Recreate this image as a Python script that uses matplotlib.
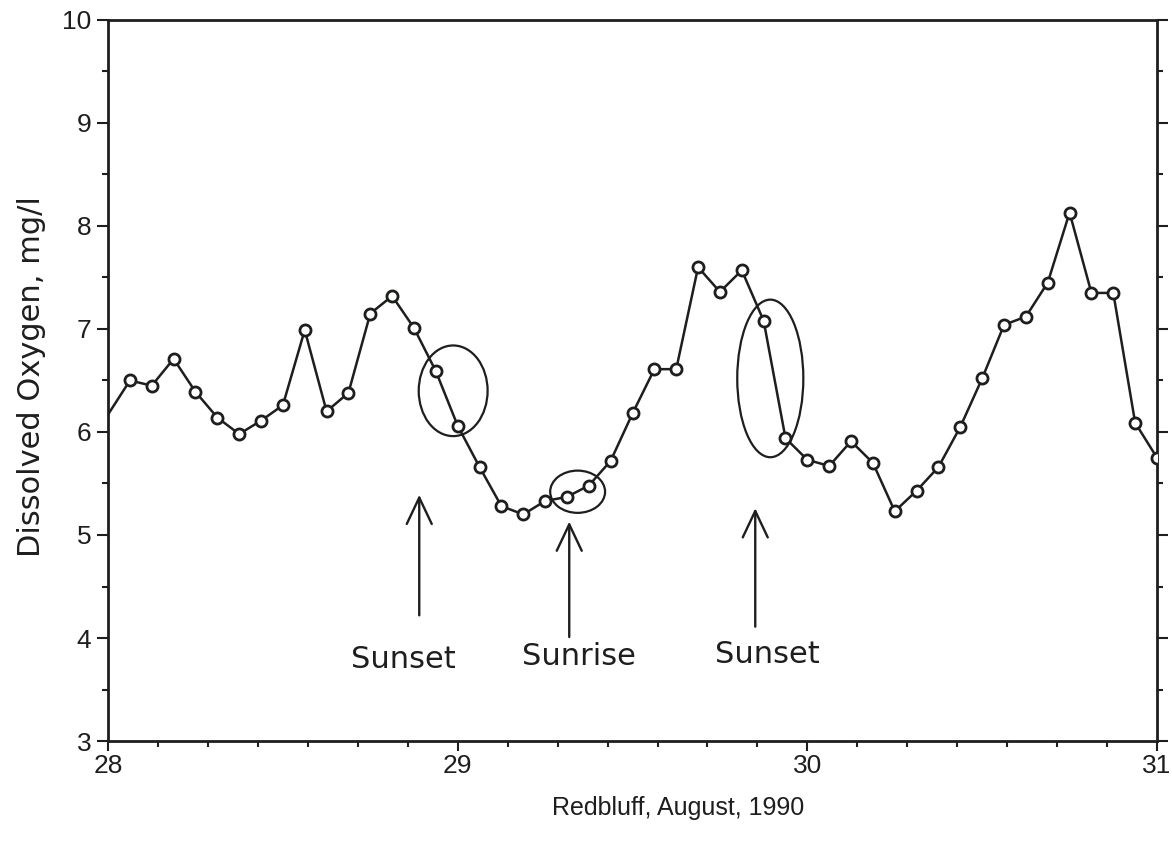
import matplotlib.pyplot as plt
from matplotlib.patches import Ellipse
from matplotlib.ticker import MultipleLocator

# Readings every 1.5 hours starting at midnight, Aug 28
hours = [0, 1.5, 3, 4.5, 6, 7.5, 9, 10.5, 12, 13.5, 15, 16.5,
         18, 19.5, 21, 22.5, 24, 25.5, 27, 28.5, 30, 31.5, 33, 34.5,
         36, 37.5, 39, 40.5, 42, 43.5, 45, 46.5, 48, 49.5, 51, 52.5,
         54, 55.5, 57, 58.5, 60, 61.5, 63, 64.5, 66, 67.5, 69, 70.5, 72]
oxygen = [6.17, 6.50, 6.45, 6.71, 6.39, 6.14, 5.98, 6.11, 6.26, 6.99, 6.20, 6.38,
          7.15, 7.32, 7.01, 6.59, 6.06, 5.66, 5.28, 5.20, 5.33, 5.37, 5.48, 5.72,
          6.18, 6.61, 6.61, 7.60, 7.36, 7.57, 7.08, 5.94, 5.73, 5.67, 5.91, 5.70,
          5.23, 5.43, 5.66, 6.05, 6.52, 7.04, 7.12, 7.45, 8.13, 7.35, 7.35, 6.09, 5.75]
start_day = 28

x_ticks = [28, 29, 30, 31]
y_ticks = [3, 4, 5, 6, 7, 8, 9, 10]

notes = ['Sunset', 'Sunrise', 'Sunset']

days = [start_day + h / 24 for h in hours]
ink = '#1c1f1c'

plt.rcParams['font.family'] = ['Liberation Sans', 'DejaVu Sans']

fig = plt.figure(figsize=(11.72, 8.46), dpi=100)
ax = fig.add_axes([0.0922, 0.1241, 0.8950, 0.8523])

ax.plot(days, oxygen, color=ink, lw=1.8, zorder=3)
ax.plot(days[1:], oxygen[1:], 'o', ms=8, mfc='white', mec=ink,
        mew=2.0, zorder=4)

ax.set_xlim(28, 31)
ax.set_ylim(3, 10)
ax.set_xticks(x_ticks)
ax.set_yticks(y_ticks)
ax.xaxis.set_minor_locator(MultipleLocator(1 / 7))
ax.yaxis.set_minor_locator(MultipleLocator(0.5))

for side in ['left', 'right', 'top', 'bottom']:
    ax.spines[side].set_linewidth(2.0)
    ax.spines[side].set_color(ink)

ax.tick_params(which='both', direction='out', width=1.5, color=ink,
               left=True, right=True, bottom=True, top=False,
               labelleft=True, labelright=False, labelcolor=ink)
ax.tick_params(axis='y', which='major', length=8, pad=4, labelsize=19)
ax.tick_params(axis='y', which='minor', length=4)
ax.tick_params(axis='x', which='major', length=7, pad=2, labelsize=19)
ax.tick_params(axis='x', which='minor', length=4)

ax.set_ylabel('Dissolved Oxygen, mg/l', fontsize=22, family='DejaVu Sans', color=ink)
ax.yaxis.set_label_coords(-0.059, 0.505)
ax.set_xlabel('Redbluff, August, 1990', fontsize=18, color=ink)
ax.xaxis.set_label_coords(0.543, -0.076)

# circled sections
for cx, cy, w, h in [(28.987, 6.40, 0.197, 0.88),
                     (29.343, 5.42, 0.157, 0.41),
                     (29.894, 6.52, 0.189, 1.53)]:
    ax.add_patch(Ellipse((cx, cy), w, h, fill=False, ec=ink, lw=1.6, zorder=5))

# arrows and labels
arrow_pos = [(28.89, 4.22, 5.39), (29.319, 4.01, 5.13), (29.851, 4.11, 5.26)]
text_pos = [(28.844, 3.71), (29.347, 3.74), (29.886, 3.76)]
for (ax_x, y0, y1), (tx, ty), label in zip(arrow_pos, text_pos, notes):
    ax.annotate('', xy=(ax_x, y1), xytext=(ax_x, y0),
                arrowprops=dict(arrowstyle='->, head_length=0.95, head_width=0.45',
                                lw=1.7, color=ink, mutation_scale=20,
                                shrinkA=0, shrinkB=0))
    ax.text(tx, ty, label, fontsize=22, family='DejaVu Sans', ha='center',
            va='baseline', color=ink)

fig.savefig('out.png', dpi=100)
